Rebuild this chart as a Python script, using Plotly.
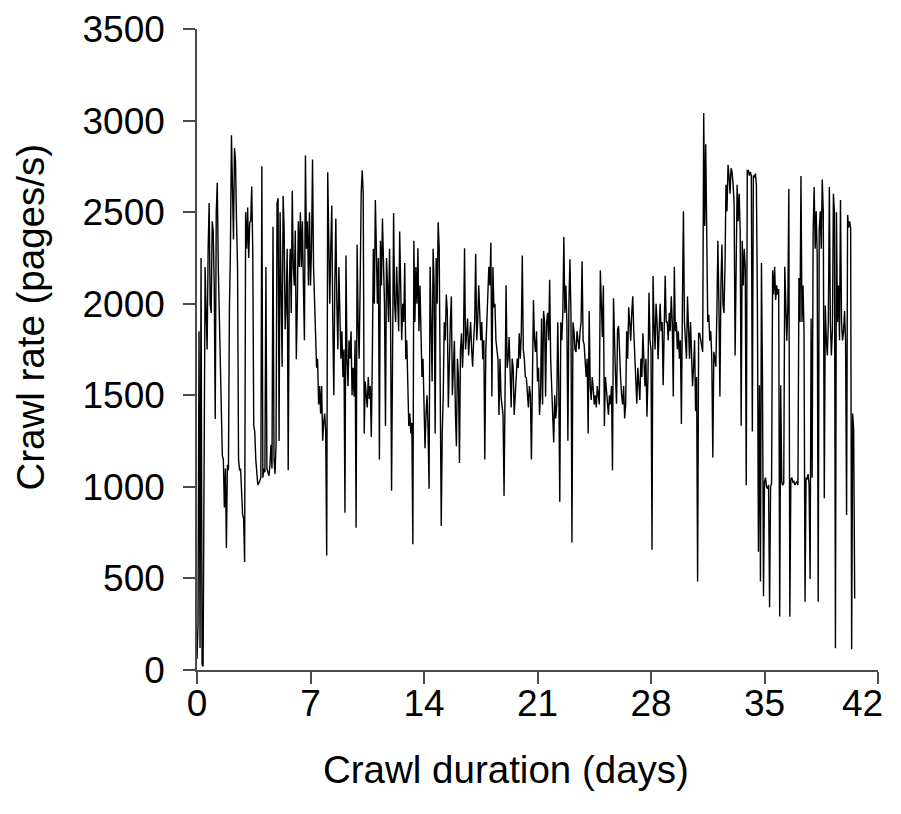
import plotly.graph_objects as go

# Crawl rate samples, one every 0.0625 day (1.5 hours)
step_days = 0.0625
crawl_rate = [
    # day 0
    60, 250, 1850, 120, 2250, 30, 20, 1400, 2200, 1950, 1750, 2300, 2550, 2000, 1950, 2450,
    # day 1
    2400, 2100, 1370, 2500, 2660, 2200, 1900, 1600, 1290, 1170, 1150, 888, 1100, 666, 1120, 1090,
    # day 2
    1980, 2300, 2920, 2500, 2350, 2850, 2780, 2450, 2200, 1150, 1090, 1100, 980, 850, 827, 590,
    # day 3
    2500, 2300, 2525, 2250, 2445, 2450, 2640, 2300, 1333, 1300, 1150, 1050, 1010, 1020, 1040, 1050,
    # day 4
    2750, 1050, 1100, 1080, 2200, 1100, 1080, 1060, 1120, 1230, 1100, 2420, 1150, 1070, 1230, 2550,
    # day 5
    2576, 1250, 2500, 2060, 1656, 2590, 2400, 1860, 2000, 2300, 1090, 2100, 2300, 1950, 2617, 2200,
    # day 6
    2100, 2400, 1697, 2000, 2450, 2200, 2500, 2200, 2450, 2100, 1800, 2809, 2300, 2450, 2100, 2500,
    # day 7
    2100, 2300, 2788, 2200, 2050, 1900, 1650, 1700, 1450, 1550, 1400, 1550, 1252, 1350, 1400, 1300,
    # day 8
    625, 2718, 2200, 2000, 2300, 2536, 1900, 1500, 2100, 2465, 2000, 1750, 2200, 1900, 1700, 1850,
    # day 9
    1600, 1750, 858, 2263, 1700, 1550, 1800, 1700, 1850, 1500, 1650, 1494, 1800, 777, 2323, 1900,
    # day 10
    1700, 2100, 2600, 2728, 2606, 1292, 1575, 1500, 1434, 1600, 1480, 1550, 1272, 1700, 2300, 2000,
    # day 11
    2566, 2300, 2000, 2250, 1150, 2344, 2100, 2465, 2200, 2000, 1333, 2250, 2100, 1900, 2300, 1899,
    # day 12
    979, 2100, 2495, 2000, 1900, 2202, 2050, 1850, 2394, 2100, 1800, 2000, 1900, 2222, 1697, 1800,
    # day 13
    1575, 1333, 1400, 1292, 1350, 686, 2344, 1900, 2200, 2000, 2303, 1850, 2100, 1778, 1600, 1700,
    # day 14
    1500, 1211, 1400, 1500, 1312, 989, 2202, 1800, 1575, 2300, 2100, 1292, 2250, 2000, 2445, 2300,
    # day 15
    1494, 787, 1292, 1500, 1899, 1800, 2050, 1960, 1434, 1778, 1900, 2040, 1500, 1650, 1798, 1400,
    # day 16
    1222, 1700, 1600, 1130, 1750, 1838, 1650, 1800, 2303, 1750, 1850, 1919, 1717, 1800, 1900, 1750,
    # day 17
    1656, 1800, 1900, 2273, 1800, 1900, 2101, 1950, 1800, 1900, 1697, 1800, 1150, 1750, 1900, 2000,
    # day 18
    2202, 2100, 2334, 1494, 2200, 1980, 2000, 1798, 1750, 1697, 1393, 1700, 1494, 1450, 1393, 950,
    # day 19
    1500, 2101, 1650, 1700, 1818, 1600, 1434, 1700, 1650, 1393, 1500, 1600, 1700, 1650, 1838, 1700,
    # day 20
    1838, 2263, 1750, 1697, 1600, 1596, 1500, 1434, 1550, 1500, 1150, 1600, 2020, 1800, 1737, 1850,
    # day 21
    1575, 1650, 1393, 1500, 1919, 1450, 1960, 1900, 1494, 1899, 1950, 1800, 2131, 1700, 1555, 1450,
    # day 22
    1242, 1500, 1373, 1450, 1899, 1550, 918, 1899, 1800, 1950, 2364, 1950, 2100, 1899, 1252, 2000,
    # day 23
    2243, 1950, 696, 1899, 1850, 1750, 1737, 1850, 1800, 1750, 1850, 1900, 2232, 1800, 1778, 1700,
    # day 24
    1600, 1700, 1292, 1960, 1550, 1474, 1600, 1535, 1450, 1500, 1434, 1550, 1500, 1450, 2182, 1900,
    # day 25
    1818, 2100, 1333, 1600, 1535, 1450, 1393, 1500, 1450, 1550, 1090, 2030, 1700, 1600, 1454, 1858,
    # day 26
    1878, 1700, 1596, 1500, 1450, 1550, 1373, 1450, 1850, 1700, 1980, 1900, 1798, 1950, 2040, 1850,
    # day 27
    1737, 1600, 1454, 1650, 1550, 1474, 1700, 1600, 1838, 1650, 1550, 1700, 1383, 1600, 2060, 1800,
    # day 28
    1750, 656, 2152, 1900, 1750, 2000, 1900, 1697, 1850, 2000, 1850, 1900, 1555, 2000, 2152, 1900,
    # day 29
    1900, 1800, 1950, 1850, 2040, 1900, 1494, 2202, 1850, 1900, 1750, 1850, 1700, 1800, 1343, 2000,
    # day 30
    2505, 1900, 1800, 1700, 2040, 1800, 1700, 1900, 1750, 1550, 1650, 1800, 1414, 1600, 483, 1838,
    # day 31
    1838, 1798, 1778, 1737, 3041, 2425, 2870, 2500, 1900, 1939, 1798, 1850, 1700, 1160, 1737, 1700,
    # day 32
    1656, 1950, 2344, 2000, 1494, 2100, 2323, 2000, 1950, 2200, 2650, 2505, 2758, 2700, 2600, 2740,
    # day 33
    2720, 2650, 2550, 1717, 2400, 2650, 2450, 2600, 2400, 1333, 2344, 2100, 2300, 2200, 1009, 2728,
    # day 34
    2728, 2700, 2720, 2700, 1302, 2700, 2690, 2710, 2650, 2000, 645, 1555, 483, 2222, 1600, 403,
    # day 35
    1030, 1050, 1000, 990, 1010, 342, 1000, 1020, 2182, 2050, 2202, 2020, 2100, 2050, 2080, 292,
    # day 36
    1555, 1029, 1009, 1020, 2202, 1900, 1798, 1980, 2627, 291, 1040, 1050, 1025, 1030, 1010, 1020,
    # day 37
    1030, 1010, 2141, 1900, 2698, 1900, 2100, 1850, 373, 1050, 1040, 1070, 1009, 497, 1919, 1050,
    # day 38
    2400, 2637, 2300, 2505, 2263, 372, 2400, 2505, 2300, 2678, 2500, 938, 1990, 1800, 1717, 1900,
    # day 39
    2637, 1900, 1717, 1850, 2600, 2500, 119, 2500, 1900, 2100, 1800, 2566, 1900, 1800, 1850, 1960,
    # day 40
    1800, 847, 2485, 2415, 2450, 2415, 113, 1400, 1312, 390,
]
days = [i * step_days for i in range(len(crawl_rate))]

x_ticks = [0, 7, 14, 21, 28, 35, 42]
# the last label ("42") is drawn as an annotation, nudged left as in the original
x_tick_text = ["0", "7", "14", "21", "28", "35", ""]
last_x_label = "42"
y_ticks = [0, 500, 1000, 1500, 2000, 2500, 3000, 3500]

axis_col = "#4a4a4a"
font_family = "Liberation Sans, Arial, sans-serif"

fig = go.Figure()
fig.add_trace(go.Scatter(x=days, y=crawl_rate, mode="lines",
                         line=dict(color="black", width=1.4),
                         showlegend=False, hoverinfo="skip"))

# page body adds an 8px offset, so the figure is 8px smaller than the window
fig.update_layout(
    width=893, height=806,
    margin=dict(l=189, r=23, t=21, b=144),
    paper_bgcolor="white", plot_bgcolor="white",
    font=dict(family=font_family, color="black", size=37),
    annotations=[
        dict(text="Crawl duration (days)", xref="paper", yref="paper",
             x=0.4537, y=-0.156, xanchor="center", yanchor="middle",
             showarrow=False, font=dict(size=38.5)),
        dict(text="Crawl rate (pages/s)", xref="paper", yref="paper",
             x=-0.245, y=0.55, xanchor="center", yanchor="middle",
             textangle=-90, showarrow=False, font=dict(size=38.5)),
        dict(text=last_x_label, xref="x", yref="paper",
             x=x_ticks[-1], y=-0.052, xanchor="center", yanchor="middle",
             xshift=-16, showarrow=False, font=dict(size=37)),
    ],
)
fig.update_xaxes(
    range=[0, 42], tickvals=x_ticks, ticktext=x_tick_text,
    showline=True, linecolor=axis_col, linewidth=1.6,
    ticks="outside", ticklen=12, tickwidth=1.6, tickcolor=axis_col,
    showgrid=False, zeroline=False, ticklabelstandoff=-12,
    tickfont=dict(size=37), automargin=False,
)
fig.update_yaxes(
    range=[0, 3500], tickvals=y_ticks, ticktext=[str(v) for v in y_ticks],
    showline=True, linecolor=axis_col, linewidth=1.6,
    ticks="outside", ticklen=12, tickwidth=1.6, tickcolor=axis_col,
    showgrid=False, zeroline=False, ticklabelstandoff=11,
    tickfont=dict(size=37), automargin=False,
)

fig.write_html("out.html")
